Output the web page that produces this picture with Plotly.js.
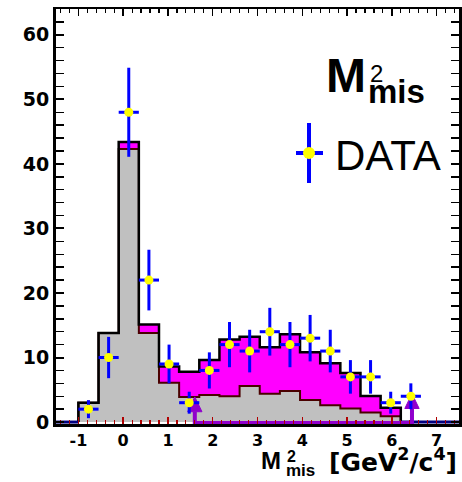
<!DOCTYPE html>
<html><head><meta charset="utf-8">
<script src="https://cdn.plot.ly/plotly-3.0.1.min.js"></script>
<style>html,body{margin:0;padding:0;background:#fff;} #chart{width:462px;height:482px;}</style>
</head><body><div id="chart"></div>
<script>
// histogram bin edges (GeV^2/c^4)
const binEdges = [-1.0,-0.55,-0.1,0.35,0.8,1.25,1.7,2.15,2.6,3.05,3.5,3.95,4.4,4.85,5.3,5.75,6.2];
// total expectation (black outline; magenta part = signal)
const totalCounts = [3.0,13.8,43.4,15.1,8.6,7.8,9.6,12.8,13.2,11.6,13.6,10.8,9.1,7.6,4.05,2.2];
// background part (grey)
const bkgCounts = [3.0,13.8,42.3,13.8,6.1,3.9,4.2,4.0,5.6,4.4,4.8,3.4,2.6,2.1,1.5,0.9];
// data points
const dataX = [-0.775,-0.325,0.125,0.575,1.025,1.475,1.925,2.375,2.825,3.275,3.725,4.175,4.625,5.075,5.525,5.975,6.425];
const dataY = [2,10,48,22,9,3,8,12,11,14,12,13,11,7,7,3,4];
const dataErr = [1.4,3.2,6.9,4.7,3.0,1.7,2.8,3.5,3.3,3.7,3.5,3.6,3.3,2.6,2.6,1.7,2.0];
const dataHalfWidth = 0.225;
// signal-region arrows
const arrowX = [1.6, 6.45];
const arrowTip = [3.9, 4.4];
// axes
const xTicks = [-1,0,1,2,3,4,5,6,7];
const xTickText = ['-1','0','1','2','3','4','5','6','7'];
const yTicks = [0,10,20,30,40,50,60];
const yTickText = ['0','10','20','30','40','50','60'];
const xRange = [-1.5, 7.5];
const yRange = [-0.3, 64];

const FONT = 'Liberation Sans, Arial, Helvetica, sans-serif';
const WIDE = 'DejaVu Sans, Verdana, sans-serif';
const PURPLE = '#9000cc';
const BASE = -0.15;
const HEAD_HALF_W = 0.16, HEAD_H = 2.3;

function step(edges, vals){
  const x=[edges[0]], y=[0];
  vals.forEach((v,i)=>{x.push(edges[i]); y.push(v);});
  x.push(edges[edges.length-1]); y.push(vals[vals.length-1]);
  x.push(edges[edges.length-1]); y.push(0);
  return {x,y};
}
const tot = step(binEdges, totalCounts);
const bkg = step(binEdges, bkgCounts);
const lastEdge = binEdges[binEdges.length-1];

const traces = [
  {x:tot.x, y:tot.y, mode:'lines', line:{shape:'hv', width:0, color:'#ff00ff'}, fill:'tozeroy', fillcolor:'#ff00ff', hoverinfo:'skip'},
  {x:bkg.x, y:bkg.y, mode:'lines', line:{shape:'hv', width:2, color:'#4a0000'}, fill:'tozeroy', fillcolor:'#c0c0c0', hoverinfo:'skip'},
  {x:tot.x, y:tot.y, mode:'lines', line:{shape:'hv', width:2.5, color:'#000000'}, hoverinfo:'skip'},
  {x:[xRange[0], binEdges[0], null, lastEdge, xRange[1]], y:[0,0,null,0,0], mode:'lines', line:{width:3, color:'#000080'}, hoverinfo:'skip'},
  {x:[arrowX[0],arrowX[0],arrowX[1],arrowX[1]], y:[arrowTip[0]-HEAD_H, BASE, BASE, arrowTip[1]-HEAD_H], mode:'lines', line:{width:4, color:PURPLE}, hoverinfo:'skip'}
];
// arrow heads as filled triangles, one trace each
arrowX.forEach((a,i)=>{
  traces.push({x:[a-HEAD_HALF_W, a+HEAD_HALF_W, a, a-HEAD_HALF_W],
               y:[arrowTip[i]-HEAD_H, arrowTip[i]-HEAD_H, arrowTip[i], arrowTip[i]-HEAD_H],
               mode:'lines', fill:'toself', fillcolor:PURPLE, line:{width:1, color:PURPLE}, hoverinfo:'skip'});
});
traces.push(
  {x:dataX, y:dataY, mode:'markers', marker:{color:'#ffff00', size:9, line:{width:0}},
   error_y:{type:'data', array:dataErr, visible:true, color:'#0000ff', thickness:3, width:0},
   error_x:{type:'constant', value:dataHalfWidth, visible:true, color:'#0000ff', thickness:3, width:0}},
  {x:[], y:[], xaxis:'x2', yaxis:'y', mode:'markers'}
);

const L=56, W=403, T=9, H=415;
const px = v => (v-L)/W;
const py = v => (T+H-v)/H;

const annotations = [
  {text:'M', font:{family:FONT,size:48,weight:'bold',color:'#000'}, x:px(324), y:py(75.5)},
  {text:'2', font:{family:FONT,size:24,color:'#000'}, x:px(368), y:py(73.5)},
  {text:'mis', font:{family:FONT,size:33,weight:'bold',color:'#000'}, x:px(366), y:py(91.6)},
  {text:'DATA', font:{family:FONT,size:42,color:'#000'}, x:px(333), y:py(155)},
  {text:'M', font:{family:FONT,size:24,weight:'bold',color:'#000'}, x:px(259), y:py(460)},
  {text:'2', font:{family:FONT,size:16,weight:'bold',color:'#000'}, x:px(285), y:py(456)},
  {text:'mis', font:{family:FONT,size:17,weight:'bold',color:'#000'}, x:px(284), y:py(470)},
  {text:'[GeV<sup>2</sup>/c<sup>4</sup>]', font:{family:WIDE,size:25,weight:'bold',color:'#000'}, x:px(327), y:py(460)}
].map(a=>Object.assign({xref:'paper', yref:'paper', xanchor:'left', yanchor:'middle', showarrow:false}, a));

const shapes = [
  {type:'line', xref:'paper', yref:'paper', x0:px(309), x1:px(309), y0:py(123), y1:py(183), line:{color:'#0000ff', width:4}},
  {type:'line', xref:'paper', yref:'paper', x0:px(296), x1:px(323), y0:py(153), y1:py(153), line:{color:'#0000ff', width:4}},
  {type:'circle', xref:'paper', yref:'paper', x0:px(303), x1:px(315), y0:py(147), y1:py(159), fillcolor:'#ffff00', line:{width:0}}
];

const tickFontX = {family:WIDE, size:16, weight:'bold', color:'#000'};
const tickFontY = {family:WIDE, size:19, weight:'bold', color:'#000'};

const layout = {
  width:462, height:482,
  margin:{l:L, r:462-L-W, t:T, b:482-T-H, pad:0},
  paper_bgcolor:'#fff', plot_bgcolor:'#fff',
  showlegend:false,
  xaxis:{range:xRange, tickmode:'array', tickvals:xTicks, ticktext:xTickText,
    ticks:'inside', ticklen:7, tickwidth:1.5, tickcolor:'#b00000',
    minor:{tickmode:'linear', tick0:0, dtick:0.2, ticks:'inside', ticklen:4, tickwidth:1.2, tickcolor:'#b00000'},
    showline:true, linecolor:'#000', linewidth:2.5, mirror:false,
    showgrid:false, zeroline:false, tickfont:tickFontX},
  xaxis2:{overlaying:'x', matches:'x', side:'top', anchor:'y', range:xRange, tickmode:'array', tickvals:xTicks,
    ticks:'inside', ticklen:7, tickwidth:1.5, tickcolor:'#000', showticklabels:false,
    minor:{tickmode:'linear', tick0:0, dtick:0.2, ticks:'inside', ticklen:4, tickwidth:1.2, tickcolor:'#000'},
    showline:true, linecolor:'#000', linewidth:2.5, showgrid:false, zeroline:false},
  yaxis:{range:yRange, tickmode:'array', tickvals:yTicks, ticktext:yTickText,
    ticks:'inside', ticklen:8, tickwidth:2, tickcolor:'#000',
    minor:{tickmode:'linear', tick0:0, dtick:2, ticks:'inside', ticklen:4, tickwidth:1.5, tickcolor:'#000'},
    showline:true, linecolor:'#000', linewidth:3, mirror:'allticks',
    showgrid:false, zeroline:false, tickfont:tickFontY},
  annotations, shapes
};

Plotly.newPlot('chart', traces, layout, {staticPlot:true, displayModeBar:false});
</script>
</body></html>
